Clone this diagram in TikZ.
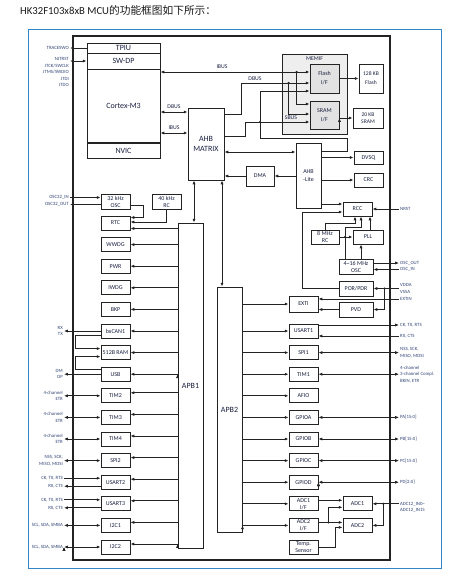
\documentclass[tikz,border=0pt]{standalone}
\usepackage{fontspec}
\setmainfont{Carlito}
\newfontfamily\cjk{Noto Sans CJK SC}
\usepackage{tikz}
\usetikzlibrary{positioning, arrows.meta, calc}

\definecolor{frameblue}{RGB}{52,132,200}
\definecolor{boxline}{RGB}{35,35,35}
\definecolor{txtnavy}{RGB}{26,32,64}
\definecolor{signavy}{RGB}{50,68,118}
\definecolor{memgrey}{RGB}{238,238,238}
\definecolor{ifgrey}{RGB}{226,226,226}

\tikzset{
  >={Latex[length=3.8pt,width=3.1pt]},
  blk/.style={draw=boxline, line width=0.9pt, minimum width=29pt, minimum height=14pt,
    inner sep=0pt, align=center, text=txtnavy, font=\fontsize{6}{7}\selectfont},
  bigblk/.style={blk, font=\fontsize{8}{10}\selectfont},
  sig/.style={inner sep=1pt, align=right, text=signavy, font=\fontsize{4.8}{6.5}\selectfont},
  sigl/.style={sig, anchor=east},
  sigr/.style={sig, anchor=west, align=left},
  buslbl/.style={inner sep=1pt, text=txtnavy, font=\fontsize{5.8}{6}\selectfont},
  wire/.style={line width=0.8pt, draw=boxline},
  joint/.style={circle, fill=boxline, inner sep=0pt, minimum size=2.4pt},
}

\begin{document}
\begin{tikzpicture}[x=1pt, y=-1pt, node distance=21.6pt, on grid]
\useasboundingbox (0,0) rectangle (470,578);

% title
\node[anchor=base west, inner sep=0pt, text=black!90, font=\fontsize{10.7}{12}\selectfont] (title) at (20,15) {HK32F103x8xB MCU{\cjk 的功能框图如下所示：}};

% frames
\draw[frameblue, line width=1pt] (28,30) rectangle (441,568);
\draw[boxline, line width=1.2pt] (73,36) rectangle (390,560);

% core
\node[bigblk, minimum width=73pt, minimum height=10pt] (tpiu) at (123.5,48) {TPIU};
\node[bigblk, minimum width=73pt, minimum height=16pt] (swdp) at (123.5,61) {SW-DP};
\node[bigblk, minimum width=73pt, minimum height=74pt] (cortex) at (123.5,106) {Cortex-M3};
\node[bigblk, minimum width=73pt, minimum height=15pt] (nvic) at (123.5,150.5) {NVIC};
\draw[boxline, line width=1.6pt] (nvic.north west) -- (nvic.north east);

\node[bigblk, minimum width=36pt, minimum height=72pt] (ahb) at (206,144) {AHB\\MATRIX};
\node[bigblk, minimum width=25pt, minimum height=325pt] (apbone) at (190.5,385.5) {APB1};
\node[bigblk, minimum width=25pt, minimum height=245pt] (apbtwo) at (229.5,409.5) {APB2};

% memory interface
\node[draw=boxline, fill=memgrey, line width=0.9pt, minimum width=65pt, minimum height=80pt] (memif) at (314.5,94) {};
\node[buslbl] (memiflbl) at ([yshift=-5pt]memif.north) {MEMIF};
\node[blk, fill=ifgrey, minimum height=29pt, font=\fontsize{6}{9}\selectfont] (flashif) at (324.5,78.5) {Flash\\I/F};
\node[blk, fill=ifgrey, minimum height=28pt, font=\fontsize{6}{9}\selectfont] (sramif) at (324.5,115) {SRAM\\I/F};
\node[blk, minimum width=24pt, minimum height=29pt, font=\fontsize{5.6}{9}\selectfont] (flashmem) at (371,78.5) {128 KB\\Flash};
\node[blk, minimum width=30pt, minimum height=20pt, font=\fontsize{5.6}{7}\selectfont] (srammem) at (368,118) {20 KB\\SRAM};

\node[blk, minimum height=13pt] (dvsq) at (368.5,157.5) {DVSQ};
\node[blk] (crc) at (368.5,180) {CRC};
\node[blk, minimum width=28pt, minimum height=20pt] (dma) at (260,176) {DMA};
\node[blk, minimum width=25pt, minimum height=65pt, font=\fontsize{6}{8}\selectfont] (ahblite) at (308.5,175.5) {AHB\\-Lite};

% clocks and reset
\node[blk] (rcc) at (357.5,209) {RCC};
\node[blk, minimum width=28pt] (rceight) at (325,237) {8 MHz\\RC};
\node[blk, minimum width=30pt] (pll) at (368,237) {PLL};
\node[blk, minimum width=34pt, minimum height=15pt] (hse) at (356,266.5) {4\textasciitilde16 MHz\\OSC};
\node[blk, minimum width=34pt, minimum height=15pt] (porpdr) at (356,288.5) {POR/PDR};
\node[blk, minimum width=34pt, minimum height=15pt] (pvd) at (356,309.5) {PVD};

% APB1 side
\node[blk, minimum height=15pt] (oscrtc) at (115.5,201.5) {32 kHz\\OSC};
\node[blk, minimum height=15pt] (rcrtc) [right=51pt of oscrtc] {40 kHz\\RC};
\node[blk] (rtc) at (115.5,223) {RTC};
\node[blk] (wwdg) [below=of rtc] {WWDG};
\node[blk] (pwr) [below=of wwdg] {PWR};
\node[blk] (iwdg) [below=of pwr] {IWDG};
\node[blk] (bkp) [below=of iwdg] {BKP};
\node[blk] (canone) [below=of bkp] {bxCAN1};
\node[blk] (sramsmall) [below=of canone] {512B RAM};
\node[blk] (usb) [below=of sramsmall] {USB};
\node[blk] (timtwo) [below=of usb] {TIM2};
\node[blk] (timthree) [below=of timtwo] {TIM3};
\node[blk] (timfour) [below=of timthree] {TIM4};
\node[blk] (spitwo) [below=of timfour] {SPI2};
\node[blk] (usarttwo) [below=of spitwo] {USART2};
\node[blk] (usartthree) [below=of usarttwo] {USART3};
\node[blk] (i2cone) [below=of usartthree] {I2C1};
\node[blk] (i2ctwo) [below=of i2cone] {I2C2};

% APB2 side
\node[blk, minimum height=16pt] (exti) at (303.5,304) {EXTI};
\node[blk] (usartone) at (303.5,331) {USART1};
\node[blk] (spione) [below=of usartone] {SPI1};
\node[blk] (timone) [below=of spione] {TIM1};
\node[blk] (afio) [below=of timone] {AFIO};
\node[blk] (gpioa) [below=of afio] {GPIOA};
\node[blk] (gpiob) [below=of gpioa] {GPIOB};
\node[blk] (gpioc) [below=of gpiob] {GPIOC};
\node[blk] (gpiod) [below=of gpioc] {GPIOD};
\node[blk] (adconeif) [below=of gpiod] {ADC1\\I/F};
\node[blk] (adctwoif) [below=of adconeif] {ADC2\\I/F};
\node[blk] (tempsens) [below=of adctwoif] {Temp.\\Sensor};
\node[blk] (adcone) [right=54pt of adconeif] {ADC1};
\node[blk] (adctwo) [right=54pt of adctwoif] {ADC2};

% pin labels
\coordinate (sigjtag) at (70,0);
\coordinate (sigleft) at (64,0);
\coordinate (sigright) at (399,0);
\node[sigl] (traceswo) at (sigjtag |- tpiu) {TRACESWO};
\node[sigl, yshift=-11pt] (jtagsig) at (sigjtag |- swdp) {NJTRST\\JTCK/SWCLK\\JTMS/SWDIO\\JTDI\\JTDO};
\node[sigl, yshift=4pt] (oscinsig) at (sigjtag |- oscrtc) {OSC32\_IN};
\node[sigl, yshift=-3pt] (oscoutsig) at (sigjtag |- oscrtc) {OSC32\_OUT};
\node[sigl] (cansig) at (sigleft |- canone) {RX\\TX};
\node[sigl] (usbsig) at (sigleft |- usb) {DM\\DP};
\node[sigl] (timtwosig) at (sigleft |- timtwo) {4-channel\\ETR};
\node[sigl] (timthreesig) at (sigleft |- timthree) {4-channel\\ETR};
\node[sigl] (timfoursig) at (sigleft |- timfour) {4-channel\\ETR};
\node[sigl] (spitwosig) at (sigleft |- spitwo) {NSS, SCK,\\MISO, MOSI};
\node[sigl, yshift=4pt] (usarttwotx) at (sigleft |- usarttwo) {CK, TX, RTS};
\node[sigl, yshift=-4pt] (usarttworx) at (sigleft |- usarttwo) {RX, CTS};
\node[sigl, yshift=4pt] (usartthreetx) at (sigleft |- usartthree) {CK, TX, RTS};
\node[sigl, yshift=-4pt] (usartthreerx) at (sigleft |- usartthree) {RX, CTS};
\node[sigl] (i2conesig) at (sigleft |- i2cone) {SCL, SDA, SMBA};
\node[sigl] (i2ctwosig) at (sigleft |- i2ctwo) {SCL, SDA, SMBA};

\node[sigr] (nrst) at (sigright |- rcc) {NRST};
\node[sigr, yshift=3.5pt] (oscoutpin) at (sigright |- hse) {OSC\_OUT};
\node[sigr, yshift=-3pt] (oscinpin) at (sigright |- hse) {OSC\_IN};
\node[sigr] (vdda) at (sigright |- porpdr) {VDDA\\VSSA};
\coordinate (extinrow) at ($(porpdr.south)!0.5!(pvd.north)$);
\node[sigr] (extin) at (sigright |- extinrow) {EXTIN};
\node[sigr, yshift=6pt] (usartonetx) at (sigright |- usartone) {CK, TX, RTS};
\node[sigr, yshift=-5pt] (usartonerx) at (sigright |- usartone) {RX, CTS};
\node[sigr] (spionesig) at (sigright |- spione) {NSS, SCK,\\MISO, MOSI};
\node[sigr] (timonesig) at (sigright |- timone) {4-channel\\3-channel Compl.\\BKIN, ETR};
\node[sigr] (gpioasig) at (sigright |- gpioa) {PA[15:0]};
\node[sigr] (gpiobsig) at (sigright |- gpiob) {PB[15:0]};
\node[sigr] (gpiocsig) at (sigright |- gpioc) {PC[15:0]};
\node[sigr] (gpiodsig) at (sigright |- gpiod) {PD[2:0]};
\node[sigr, yshift=-3.5pt] (adcsig) at (sigright |- adcone) {ADC12\_IN0\textasciitilde\\ADC12\_IN15};

% buses
\coordinate (ibusrow) at ([yshift=6.5pt]flashif.west);
\coordinate (dbusrow) at ([yshift=-4.5pt]flashif.west);
\coordinate (sbusrow) at ([yshift=-7pt]sramif.west);
\coordinate (dcode) at ([yshift=32pt]ahb.west);
\coordinate (icode) at ([yshift=11pt]ahb.west);
\coordinate (litebend) at (260,138);
\draw[wire, <->] (ibusrow -| cortex.east) -- (ibusrow);
\node[buslbl] (ibuslbl) at (222,67) {IBUS};
\node[joint] (ibusjoin) at ([xshift=-13pt]ibusrow) {};
\draw[wire, ->] (ibusjoin.center) |- ([yshift=11pt]sramif.west);
\draw[wire, ->] ([yshift=30pt]ahb.east) -- ++(17,0) |- (dbusrow);
\node[buslbl] (dbuslbl) at (255,79) {DBUS};
\node[joint] (dbusjoin) at ([xshift=-21pt]dbusrow) {};
\draw[wire, ->] (dbusjoin.center) |- ([yshift=1pt]sramif.west);
\draw[wire, ->] ([yshift=8pt]ahb.east) -- ++(21,0) |- (sbusrow);
\node[buslbl] (sbuslbl) at (291,118) {SBUS};
\draw[wire, ->] ([yshift=24.5pt]ahblite.east) -- ++(25.5,0) |- (litebend) |- ([yshift=-12.5pt]flashif.west);
\node[joint] (sbuscross) at (litebend |- sbusrow) {};
\draw[wire, <->] (dcode -| cortex.east) -- node[buslbl, above=2pt] {DBUS} (dcode);
\draw[wire, <->] (icode -| cortex.east) -- node[buslbl, above=2pt] {IBUS} (icode);

\coordinate (literow) at ([yshift=23.5pt]ahblite.west);
\coordinate (ahbapbone) at ([xshift=-12pt]ahb.south);
\coordinate (ahbapbtwo) at ([xshift=16pt]ahb.south);
\draw[wire, <->] (literow -| ahb.east) -- (literow);
\draw[wire, <->] (ahbapbone) -- (ahbapbone |- apbone.north);
\draw[wire, <->] (ahbapbtwo) -- (ahbapbtwo |- apbtwo.north);
\path[->, wire]
  (ahblite.west |- dma) edge (dma.east)
  (dma.west) edge (dma.west -| ahb.east)
  (ahblite.east |- dvsq) edge (dvsq.west)
  (ahblite.east |- crc) edge (crc.west)
  (flashif.east) edge (flashmem.west)
  (sramif.east |- srammem) edge (srammem.west)
  ;

% clock tree
\coordinate (rccahb) at ([yshift=5pt]rcc.west);
\coordinate (rccpor) at ([yshift=-3pt]rcc.west);
\coordinate (hseleft) at ([xshift=-11pt]hse.north);
\coordinate (hsetop) at ([xshift=5pt]hse.north);
\coordinate (plltop) at ([xshift=2pt]pll.north);
\draw[wire, ->] (rccahb -| ahblite.east) -- (rccahb);
\draw[wire, ->] (porpdr.west) -- ++(-36,0) |- (rccpor);
\draw[wire, ->] (rceight.north) -- ++(0,-6) -| ([xshift=-2.5pt]rcc.south);
\draw[wire, ->] (hseleft) -- ++(0,-31) -| ([xshift=3.5pt]rcc.south);
\draw[wire, ->] (plltop) -- (plltop |- rcc.south);
\draw[wire, ->] (hsetop) -- (hsetop |- pll.south);
\draw[wire, ->] (rceight.east) -- (pll.west);
\node[joint] (hsecross) at (hseleft |- rceight.east) {};
\draw[wire, ->] (nrst.west) -- (rcc.east);
\draw[wire, ->] (oscoutpin.west -| hse.east) -- (oscoutpin.west);
\draw[wire, ->] (oscinpin.west) -- (oscinpin.west -| hse.east);
\draw[wire, ->] (vdda.west) -- (porpdr.east);
\node[joint] (vjoin) at ([xshift=11pt]porpdr.east) {};
\draw[wire, ->] (vjoin.center) |- (pvd.east);
\draw[wire, ->] (extin.west) -- (extin.west -| exti.east);
\draw[wire, ->] (pvd.west) -- (pvd.west -| exti.east);

% RTC domain
\coordinate (rtcbus) at ([yshift=-5.5pt]rtc.east);
\draw[wire, ->] ([yshift=-4pt]oscrtc.east) -- ++(12.5,0) |- ([yshift=5.5pt]rtc.east);
\draw[wire, ->] (rcrtc.south) |- ([yshift=1pt]rtc.east);
\draw[wire, ->] (rtcbus -| apbone.west) -- (rtcbus);

% APB1 peripherals
\path[->, wire]
  (apbone.west |- wwdg) edge (wwdg.east)
  (apbone.west |- pwr) edge (pwr.east)
  (apbone.west |- iwdg) edge (iwdg.east)
  (apbone.west |- bkp) edge (bkp.east)
  (apbone.west |- canone) edge (canone.east)
  (apbone.west |- sramsmall) edge (sramsmall.east)
  (apbone.west |- usb) edge (usb.east)
  ;
\begin{scope}[transform canvas={yshift=3pt}]
\path[->, wire]
  (apbone.west |- timtwo) edge (timtwo.east)
  (apbone.west |- timthree) edge (timthree.east)
  (apbone.west |- timfour) edge (timfour.east)
  (apbone.west |- spitwo) edge (spitwo.east)
  (apbone.west |- usarttwo) edge (usarttwo.east)
  (apbone.west |- usartthree) edge (usartthree.east)
  (apbone.west |- i2cone) edge (i2cone.east)
  (apbone.west |- i2ctwo) edge (i2ctwo.east)
  ;
\end{scope}

% APB2 peripherals
\path[->, wire]
  (apbtwo.east |- exti) edge (exti.west)
  (apbtwo.east |- usartone) edge (usartone.west)
  (apbtwo.east |- spione) edge (spione.west)
  (apbtwo.east |- timone) edge (timone.west)
  (apbtwo.east |- afio) edge (afio.west)
  (apbtwo.east |- gpioa) edge (gpioa.west)
  (apbtwo.east |- gpiob) edge (gpiob.west)
  (apbtwo.east |- gpioc) edge (gpioc.west)
  (apbtwo.east |- gpiod) edge (gpiod.west)
  (apbtwo.east |- adconeif) edge (adconeif.west)
  (apbtwo.east |- adctwoif) edge (adctwoif.west)
  ;

% ADC
\draw[wire, ->] ([yshift=3.5pt]adconeif.east) -- ([yshift=3.5pt]adcone.west);
\draw[wire, ->] ([yshift=3pt]adctwoif.east) -- ([yshift=3pt]adctwo.west);
\node[joint] (adcsplit) at ([xshift=10pt,yshift=3pt]adctwoif.east) {};
\draw[wire, ->] (adcsplit.center) |- ([yshift=-3.5pt]adcone.west);
\draw[wire, ->] (tempsens.east) -- ++(17,0) |- ([yshift=-2pt]adctwo.west);
\draw[wire, ->] (sigright |- adcone.east) -- (adcone.east);
\node[joint] (adcjoin) at ([xshift=11pt]adcone.east) {};
\draw[wire, ->] (adcjoin.center) |- (adctwo.east);

% pins, left
\draw[wire, ->] (tpiu.west) -- (traceswo.east);
\draw[wire, <->] (swdp.west) -- (swdp.west -| sigjtag);
\draw[wire, ->] (oscinsig.east) -- (oscinsig.east -| oscrtc.west);
\draw[wire, ->] (oscoutsig.east -| oscrtc.west) -- (oscoutsig.east);
\draw[wire, ->] (canone.west) -- (canone.west -| cansig.east);
\draw[wire, ->] ([yshift=-4pt]canone.west) -- ++(-25,0) |- ([yshift=4pt]sramsmall.west);
\draw[wire, ->] ([yshift=5pt]usb.west) -- ++(-25,0) |- ([yshift=-4pt]sramsmall.west);
\draw[wire, ->] (usb.west) -- (usb.west -| usbsig.east);
\path[<->, wire]
  (timtwosig.east) edge (timtwosig.east -| timtwo.west)
  (timthreesig.east) edge (timthreesig.east -| timthree.west)
  (timfoursig.east) edge (timfoursig.east -| timfour.west)
  (spitwosig.east) edge (spitwosig.east -| spitwo.west)
  (i2conesig.east) edge (i2conesig.east -| i2cone.west)
  (i2ctwosig.east) edge (i2ctwosig.east -| i2ctwo.west)
  ;
\draw[wire, ->] (usarttwotx.east) -- (usarttwotx.east -| usarttwo.west);
\draw[wire, ->] (usarttworx.east -| usarttwo.west) -- (usarttworx.east);
\draw[wire, ->] (usartthreetx.east) -- (usartthreetx.east -| usartthree.west);
\draw[wire, ->] (usartthreerx.east -| usartthree.west) -- (usartthreerx.east);

% pins, right
\draw[wire, ->] (usartonetx.west -| usartone.east) -- (usartonetx.west);
\draw[wire, ->] (usartonerx.west) -- (usartonerx.west -| usartone.east);
\path[<->, wire]
  (spione.east) edge (spionesig.west)
  (timone.east) edge (timonesig.west)
  (gpioa.east) edge (gpioasig.west)
  (gpiob.east) edge (gpiobsig.west)
  (gpioc.east) edge (gpiocsig.west)
  (gpiod.east) edge (gpiodsig.west)
  ;
\end{tikzpicture}
\end{document}
